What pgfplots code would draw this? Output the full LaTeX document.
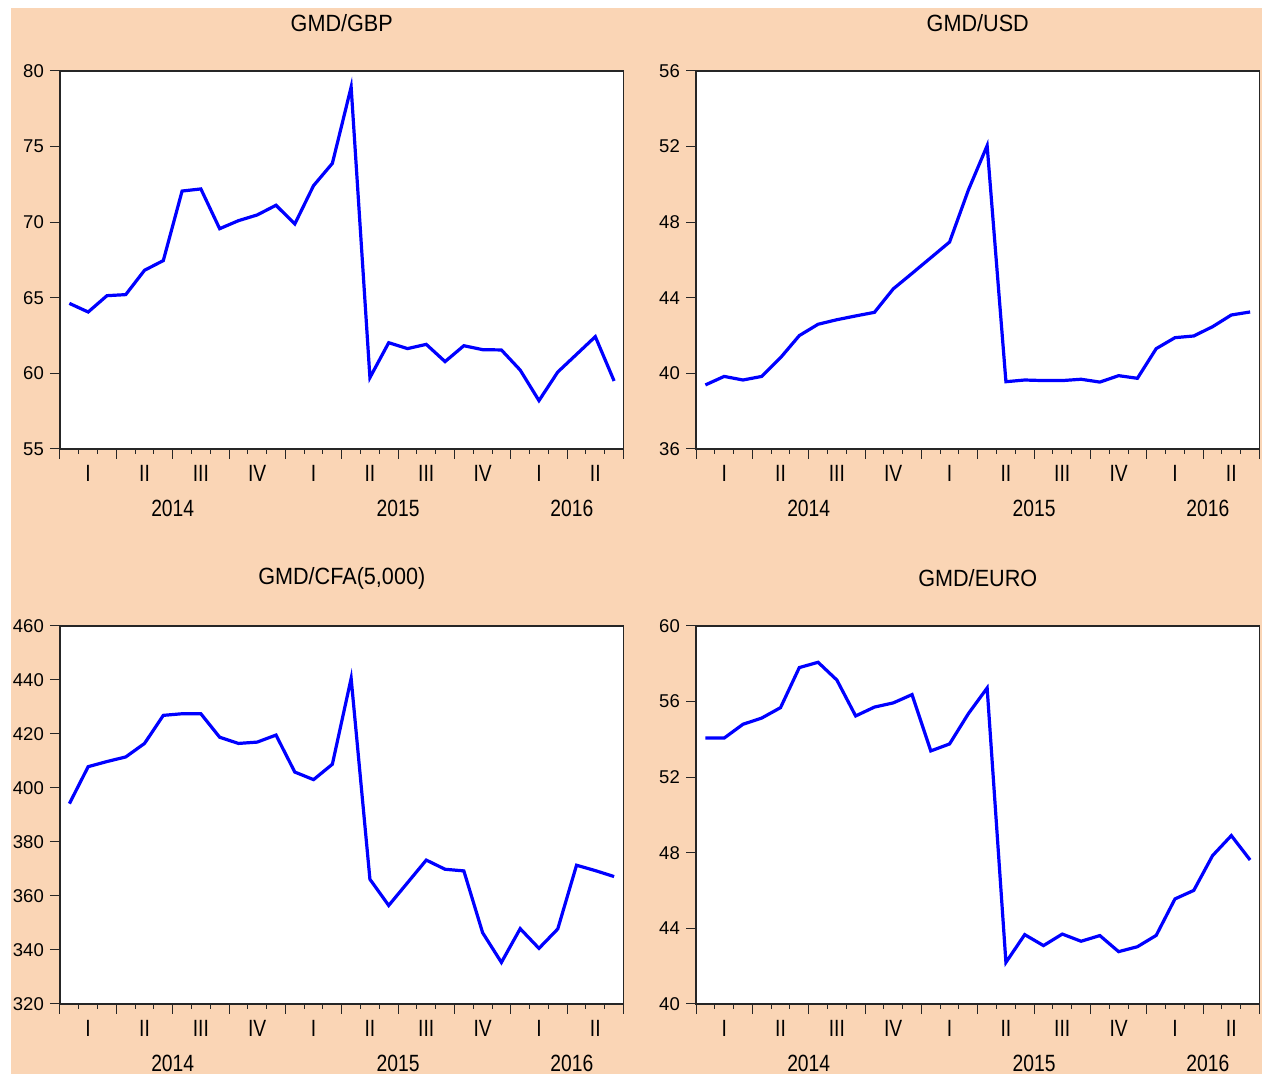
\documentclass[border=0pt]{standalone}
\usepackage{pgfplots}
\usepackage{pgfplotstable}
\usepackage{graphicx}
\usepackage{fontspec}
\setmainfont{Liberation Sans}
\pgfplotsset{compat=1.18}

\definecolor{peach}{RGB}{250,213,181}
\definecolor{seriesblue}{RGB}{0,0,255}

% Monthly exchange rates, Jan 2014 -- Jun 2016 (x = month centre)
\pgfplotstableread{
x     gbp    usd    cfa    euro
0.5   64.63  39.39  394.2  54.07
1.5   64.06  39.84  407.9  54.07
2.5   65.14  39.65  409.8  54.80
3.5   65.21  39.84  411.5  55.13
4.5   66.82  40.83  416.5  55.68
5.5   67.46  42.00  426.9  57.80
6.5   72.06  42.60  427.5  58.08
7.5   72.20  42.84  427.5  57.14
8.5   69.57  43.04  418.8  55.24
9.5   70.10  43.23  416.5  55.71
10.5  70.48  44.47  417.0  55.93
11.5  71.12  45.29  419.6  56.37
12.5  69.88  46.12  405.9  53.39
13.5  72.42  46.95  403.1  53.76
14.5  73.89  49.70  408.8  55.36
15.5  78.94  52.05  440.6  56.72
16.5  59.72  39.56  366.2  42.20
17.5  62.03  39.65  356.5  43.67
18.5  61.64  39.62  364.9  43.09
19.5  61.92  39.62  373.3  43.70
20.5  60.78  39.69  369.9  43.32
21.5  61.83  39.54  369.3  43.62
22.5  61.57  39.88  346.4  42.77
23.5  61.55  39.74  335.4  43.03
24.5  60.22  41.31  347.9  43.63
25.5  58.20  41.89  340.6  45.56
26.5  60.09  41.98  347.8  46.01
27.5  61.26  42.47  371.4  47.85
28.5  62.43  43.09  369.4  48.91
29.5  59.50  43.25  367.2  47.62
}\rates

\newcommand{\xl}[1]{\scalebox{0.82}[1]{#1}}
\newcommand{\ttl}[1]{\scalebox{0.92}[1]{#1}}

\tikzset{
  qlab/.style={anchor=center, inner sep=0pt, yshift=-24.5pt,
    font=\fontsize{23.5}{26}\selectfont},
  ylab/.style={anchor=center, inner sep=0pt, yshift=-59pt,
    font=\fontsize{23.5}{26}\selectfont},
  ptitle/.style={anchor=center, inner sep=0pt, yshift=47.5pt,
    font=\fontsize{23.5}{26}\selectfont},
}

% quarter and year labels under the monthly axis
\newcommand{\timeaxis}{%
  \node[qlab] at (axis description cs:0.05,0) {\xl{I}};
  \node[qlab] at (axis description cs:0.15,0) {\xl{II}};
  \node[qlab] at (axis description cs:0.25,0) {\xl{III}};
  \node[qlab] at (axis description cs:0.35,0) {\xl{IV}};
  \node[qlab] at (axis description cs:0.45,0) {\xl{I}};
  \node[qlab] at (axis description cs:0.55,0) {\xl{II}};
  \node[qlab] at (axis description cs:0.65,0) {\xl{III}};
  \node[qlab] at (axis description cs:0.75,0) {\xl{IV}};
  \node[qlab] at (axis description cs:0.85,0) {\xl{I}};
  \node[qlab] at (axis description cs:0.95,0) {\xl{II}};
  \node[ylab] at (axis description cs:0.2,0) {\xl{2014}};
  \node[ylab] at (axis description cs:0.6,0) {\xl{2015}};
  \node[ylab] at (axis description cs:0.9083,0) {\xl{2016}};
}

\pgfplotsset{
  panel/.style={
    scale only axis,
    width=563.5pt, height=378pt,
    anchor=south west,
    xmin=0, xmax=30,
    axis background/.style={fill=white},
    axis line style={line width=1.2pt, black!85},
    tick align=outside,
    xtick pos=bottom, ytick pos=left,
    xtick={0,3,...,30}, xticklabels={},
    minor xtick={0,...,30},
    major tick length=10pt, minor tick length=5pt,
    every tick/.style={black!85, line width=1pt},
    /pgf/number format/assume math mode=true,
    /pgf/number format/1000 sep={},
    yticklabel style={font=\fontsize{18.5}{20}\selectfont, inner sep=0pt, xshift=-6pt},
    clip mode=individual,
  },
  rate/.style={seriesblue, line width=3.2pt, no markers},
}

\begin{document}
\begin{tikzpicture}[x=1pt,y=1pt]
  \fill[white] (0,0) rectangle (1262,1074);
  \fill[peach] (11,0) rectangle (1262,1066);

  % GMD/GBP
  \begin{axis}[panel, at={(60pt,625pt)}, ymin=55, ymax=80, ytick={55,60,...,80}]
    \addplot[rate] table[x=x, y=gbp] {\rates};
    \node[ptitle] at (axis description cs:0.5,1) {\ttl{GMD/GBP}};
    \timeaxis
  \end{axis}

  % GMD/USD
  \begin{axis}[panel, at={(696pt,625pt)}, ymin=36, ymax=56, ytick={36,40,...,56}]
    \addplot[rate] table[x=x, y=usd] {\rates};
    \node[ptitle] at (axis description cs:0.5,1) {\ttl{GMD/USD}};
    \timeaxis
  \end{axis}

  % GMD/CFA (per 5,000)
  \begin{axis}[panel, at={(60pt,70pt)}, ymin=320, ymax=460, ytick={320,340,...,460}]
    \addplot[rate] table[x=x, y=cfa] {\rates};
    \node[ptitle] at (axis description cs:0.5,1) {\ttl{GMD/CFA(5,000)}};
    \timeaxis
  \end{axis}

  % GMD/EURO
  \begin{axis}[panel, at={(696pt,70pt)}, ymin=40, ymax=60, ytick={40,44,...,60}]
    \addplot[rate] table[x=x, y=euro] {\rates};
    \node[ptitle] at (axis description cs:0.5,1) {\ttl{GMD/EURO}};
    \timeaxis
  \end{axis}

  \pgfresetboundingbox
  \path[use as bounding box] (0,0) rectangle (1262,1074);
\end{tikzpicture}
\end{document}
